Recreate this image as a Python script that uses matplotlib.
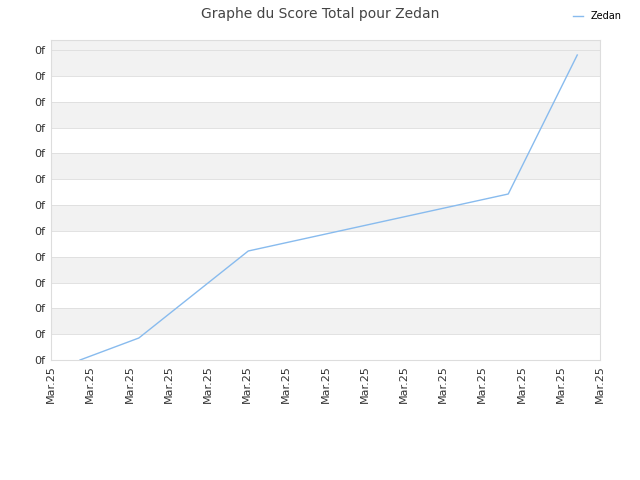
import matplotlib
matplotlib.use("Agg")
import matplotlib.pyplot as plt
import numpy as np

x_pos = [0.74, 2.24, 5.03, 11.66, 13.42]
scores = [0, 22, 109, 166, 305]
x_labels = ["Mar.25"] * 15
y_labels = ["0f"] * 13
step = 25.83

fig = plt.figure(figsize=(6.4, 4.8), dpi=100)
ax = fig.add_axes([51/640, 1-360/480, 549/640, 320/480])
ymax = 320
for i in range(13):
    if i % 2 == 1:
        top = (i + 1) * step if i < 11 else ymax
        ax.axhspan(i * step, top, color="#f2f2f2", zorder=0, lw=0)
    ax.axhline(i * step, color="#dddddd", lw=0.6, zorder=1)
ax.plot(x_pos, scores, color="#88bbee", lw=1, label="Zedan", zorder=3)
ax.set_xlim(0, 14)
ax.set_ylim(0, ymax)
ax.set_yticks([i * step for i in range(13)])
ax.set_yticklabels(y_labels, fontsize=8, color="#333333")
ax.set_xticks(range(15))
ax.set_xticklabels(x_labels, rotation=90, fontsize=8, color="#333333")
ax.tick_params(length=0, pad=4)
for s in ax.spines.values():
    s.set_color("#dddddd")
fig.suptitle("Graphe du Score Total pour Zedan", y=0.985, fontsize=10, color="#444444")
fig.legend(loc="upper right", bbox_to_anchor=(0.985, 0.995), frameon=False, fontsize=7, handlelength=1)
fig.savefig("out.png", dpi=100)
